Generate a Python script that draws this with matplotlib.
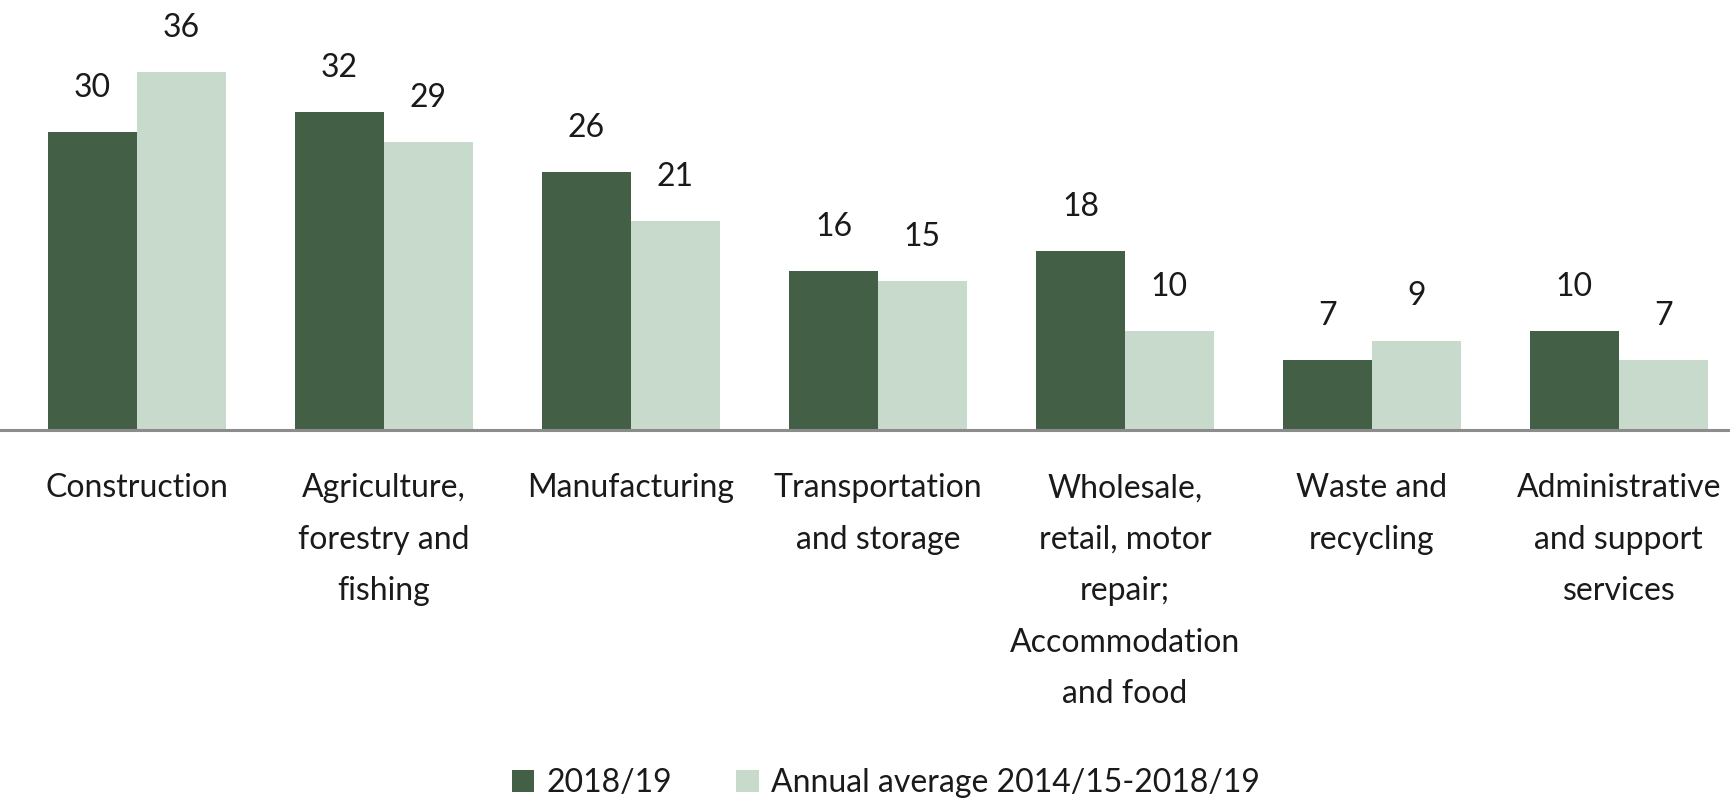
import matplotlib
import matplotlib.pyplot as plt
import numpy as np

matplotlib.use("Agg")

# Data
categories = [
    "Construction",
    "Agriculture,\nforestry and\nfishing",
    "Manufacturing",
    "Transportation\nand storage",
    "Wholesale,\nretail, motor\nrepair;\nAccommodation\nand food",
    "Waste and\nrecycling",
    "Administrative\nand support\nservices",
]
values_2018 = [30, 32, 26, 16, 18, 7, 10]
values_avg = [36, 29, 21, 15, 10, 9, 7]
series_names = ["2018/19", "Annual average 2014/15-2018/19"]

dark_green = "#436046"
light_green = "#c8dacc"
text_color = "#1a1a1a"

plt.rcParams["font.family"] = ["Lato", "DejaVu Sans"]

fig = plt.figure(figsize=(17.3, 8.01), dpi=100)
ax = fig.add_axes([0.0, 1 - 430 / 801, 1.0, 430 / 801])

x = np.arange(len(categories))
width = 0.36

bars1 = ax.bar(x - width / 2, values_2018, width, color=dark_green, label=series_names[0])
bars2 = ax.bar(x + width / 2, values_avg, width, color=light_green, label=series_names[1])

# Value labels above bars
for bars in (bars1, bars2):
    for b in bars:
        ax.annotate(
            f"{b.get_height():.0f}",
            (b.get_x() + b.get_width() / 2, b.get_height()),
            xytext=(0, 21),
            textcoords="offset points",
            ha="center",
            va="bottom",
            fontsize=23,
            color=text_color,
        )

ax.set_xlim(-0.555, 6.45)
ax.set_ylim(0, 43.3)

ax.set_xticks(x)
ax.set_xticklabels(categories, fontsize=23, color=text_color, linespacing=1.9, va="top")
ax.tick_params(axis="x", length=0, pad=31)
ax.set_yticks([])

for side in ("top", "right", "left"):
    ax.spines[side].set_visible(False)
ax.spines["bottom"].set_color("#8c8c8c")
ax.spines["bottom"].set_linewidth(2.2)

fig.legend(
    handles=[bars1, bars2],
    labels=series_names,
    loc="center",
    bbox_to_anchor=(886 / 1730, 1 - 783 / 801),
    ncol=2,
    frameon=False,
    fontsize=23,
    handlelength=0.7,
    handleheight=0.7,
    handletextpad=0.4,
    columnspacing=2.0,
    labelcolor=text_color,
)

fig.savefig("out.png", dpi=100)
plt.close(fig)
